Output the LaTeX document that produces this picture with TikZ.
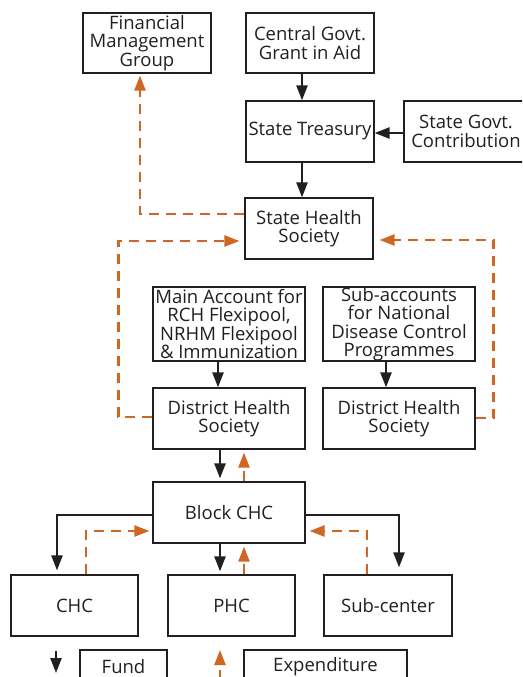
\documentclass[tikz,border=0pt]{standalone}
\usepackage{fontspec}
\setmainfont{Open Sans}
\usetikzlibrary{arrows.meta}
\definecolor{ink}{RGB}{35,31,32}
\definecolor{spend}{RGB}{208,102,36}
\begin{document}
\begin{tikzpicture}[x=1pt,y=-1pt,
  box/.style={draw=ink,line width=1.2pt,text=ink,align=center,inner sep=0pt,
    font=\fontsize{18.5}{18.5}\selectfont},
  fund/.style={draw=ink,line width=2.4pt,-{Triangle[length=15pt,width=11pt]}},
  exp/.style={draw=spend,line width=2.4pt,dash pattern=on 10pt off 7pt,
    -{Triangle[length=15pt,width=11pt]}}]
\clip (0,0) rectangle (522,677);
\useasboundingbox (0,0) rectangle (522,677);

% boxes
\node[box,minimum width=128pt,minimum height=60pt] (fmg) at (147,43) {Financial\\Management\\Group};
\node[box,minimum width=128pt,minimum height=60pt] (cg) at (310,43) {Central Govt.\\Grant in Aid};
\node[box,minimum width=128pt,minimum height=61pt] (st) at (310,131.5) {State Treasury};
\node[box,minimum width=124pt,minimum height=61pt] (sgc) at (466,131.5) {State Govt.\\Contribution};
\node[box,minimum width=128pt,minimum height=61pt] (shs) at (309,228.5) {State Health\\Society};
\node[box,minimum width=152pt,minimum height=74pt] (main) at (229,324) {Main Account for\\RCH Flexipool,\\NRHM Flexipool\\\& Immunization};
\node[box,minimum width=152pt,minimum height=74pt] (sub) at (399,324) {Sub-accounts\\for National\\Disease Control\\Programmes};
\node[box,minimum width=152pt,minimum height=61pt] (dhsa) at (229,418.5) {District Health\\Society};
\node[box,minimum width=152pt,minimum height=61pt] (dhsb) at (399,418.5) {District Health\\Society};
\node[box,minimum width=152pt,minimum height=61pt] (block) at (229,512.5) {Block CHC};
\node[box,minimum width=127pt,minimum height=61pt] (chc) at (74.5,605.5) {CHC};
\node[box,minimum width=127pt,minimum height=61pt] (phc) at (231.5,605.5) {PHC};
\node[box,minimum width=128pt,minimum height=61pt] (subc) at (388,605.5) {Sub-center};
\node[box,minimum width=87pt,minimum height=34pt] (fundkey) at (123.5,667) {Fund};
\node[box,minimum width=163pt,minimum height=34pt] (expkey) at (325.5,667) {Expenditure};

% fund flow
\draw[fund] (cg.south -| 302,0) -- (st.north -| 302,0);
\draw[fund] (sgc.west |- 0,133) -- (st.east |- 0,133);
\draw[fund] (st.south -| 302,0) -- (shs.north -| 302,0);
\draw[fund] (main.south -| 218,0) -- (dhsa.north -| 218,0);
\draw[fund] (sub.south -| 386,0) -- (dhsb.north -| 386,0);
\draw[fund,shorten >=3pt] (dhsa.south -| 220,0) -- (block.north -| 220,0);
\draw[fund,shorten >=3pt] (block.south -| 220,0) -- (phc.north -| 220,0);
\draw[fund,shorten >=4pt] (block.west |- 0,515) -| (chc.north -| 57,0);
\draw[fund,shorten >=7pt] (block.east |- 0,515) -| (subc.north -| 399,0);

% expenditure reporting
\draw[exp,shorten >=2pt] (shs.west |- 0,214) -| (fmg.south -| 140,0);
\draw[exp,shorten >=5pt] (dhsa.west |- 0,417) -- ++(-34,0) |- (shs.west |- 0,241);
\draw[exp,shorten >=6pt] (dhsb.east |- 0,418) -- ++(18,0) |- (shs.east |- 0,240);
\draw[exp,shorten >=3pt] (block.north -| 244,0) -- (dhsa.south -| 244,0);
\draw[exp,shorten >=3pt] (phc.north -| 244,0) -- (block.south -| 244,0);
\draw[exp,shorten >=3pt] (chc.north -| 86,0) |- (block.west |- 0,531);
\draw[exp,shorten >=4pt] (subc.north -| 367,0) |- (block.east |- 0,531);

% key
\coordinate (fundtop) at (56,651);
\coordinate (fundend) at (56,673);
\coordinate (exptop) at (220,650);
\coordinate (expend) at (220,680);
\draw[fund] (fundtop) -- (fundend);
\draw[exp] (expend) -- (exptop);
\end{tikzpicture}
\end{document}
